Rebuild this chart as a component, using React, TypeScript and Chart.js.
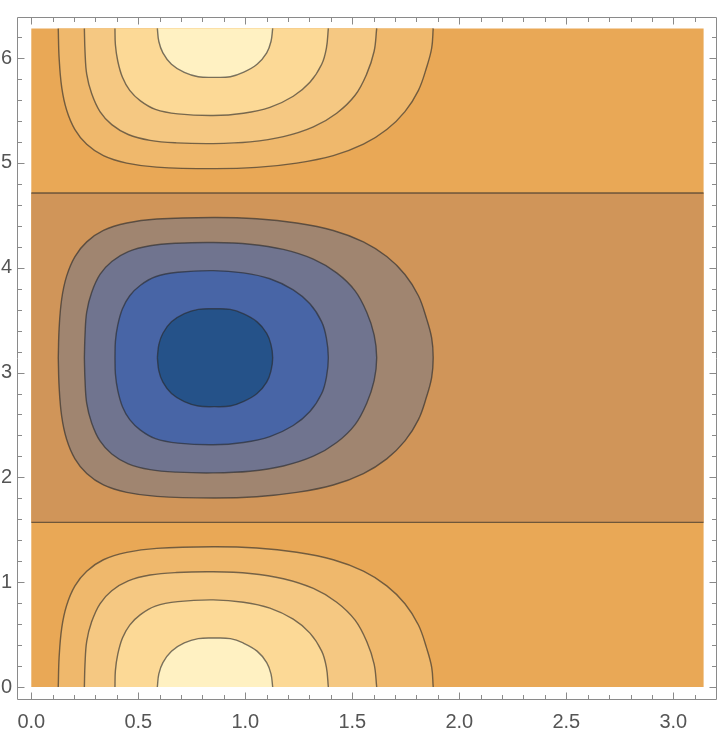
import React, { useEffect, useRef } from 'react';
import { Chart, registerables } from 'chart.js';

Chart.register(...registerables);

// Plot domain
const X_DOMAIN = [0, Math.PI];
const Y_DOMAIN = [0, 2 * Math.PI];

// Axis ticks
const X_TICKS = [0, 0.5, 1, 1.5, 2, 2.5, 3];
const X_TICK_LABELS = ['0.0', '0.5', '1.0', '1.5', '2.0', '2.5', '3.0'];
const Y_TICKS = [0, 1, 2, 3, 4, 5, 6];
const Y_TICK_LABELS = ['0', '1', '2', '3', '4', '5', '6'];
const X_MINOR_STEP = 0.1;
const Y_MINOR_STEP = 0.2;

// Zero contour lines (horizontal)
const ZERO_LINES_Y = [Math.PI / 2, (3 * Math.PI) / 2];

// Contour half-shapes: [x, distance from the line of symmetry]
// (same shape appears around y = 0, y = 2π and, with opposite sign, around y = π)
const CONTOUR_1 = [
  [0.126, 0], [0.13, 0.28], [0.142, 0.56], [0.165, 0.778], [0.204, 0.965], [0.259, 1.105],
  [0.337, 1.214], [0.446, 1.285], [0.586, 1.323], [0.85, 1.338], [1.053, 1.326],
  [1.24, 1.285], [1.411, 1.214], [1.552, 1.105], [1.661, 0.965], [1.746, 0.794],
  [1.809, 0.591], [1.847, 0.373], [1.871, 0.187], [1.878, 0],
];
const CONTOUR_2 = [
  [0.248, 0], [0.251, 0.218], [0.259, 0.436], [0.282, 0.622], [0.321, 0.794], [0.376, 0.918],
  [0.453, 1.012], [0.555, 1.068], [0.679, 1.092], [0.85, 1.099], [1.022, 1.083],
  [1.178, 1.033], [1.318, 0.94], [1.427, 0.809], [1.513, 0.638], [1.567, 0.436],
  [1.602, 0.218], [1.614, 0],
];
const CONTOUR_3 = [
  [0.391, 0], [0.393, 0.156], [0.404, 0.311], [0.426, 0.467], [0.46, 0.591], [0.51, 0.691],
  [0.58, 0.772], [0.685, 0.815], [0.85, 0.831], [0.991, 0.809], [1.115, 0.753],
  [1.224, 0.647], [1.302, 0.514], [1.357, 0.342], [1.379, 0.187], [1.388, 0],
];
const CONTOUR_4 = [
  [0.589, 0], [0.596, 0.125], [0.615, 0.233], [0.655, 0.342], [0.715, 0.42], [0.78, 0.461],
  [0.855, 0.467], [0.93, 0.461], [0.99, 0.42], [1.055, 0.342], [1.1, 0.233], [1.12, 0.125],
  [1.128, 0],
];
const CONTOURS = [CONTOUR_1, CONTOUR_2, CONTOUR_3, CONTOUR_4];

// Region colours, from the zero level outward
const POSITIVE_COLORS = ['#E9A856', '#EFB86C', '#F5C882', '#FCD996', '#FFF1C2'];
const NEGATIVE_COLORS = ['#D09559', '#A08570', '#70748F', '#4865A6', '#255289'];

const LINE_COLOR = 'rgba(40,40,40,0.62)';
const LINE_WIDTH = 1.4;
const AXIS_COLOR = '#8a8a8a';
const LABEL_COLOR = '#555555';
const CURVE_TENSION = 0.38;

type P = { x: number; y: number };

const place = (shape: number[][], cy: number, sign: number): P[] =>
  shape.map(([x, d]) => ({ x, y: cy + sign * d }));

function buildDatasets() {
  const list: any[] = [];
  const region = (data: P[], fillColor: string, border: boolean, tension: number) => ({
    data,
    backgroundColor: fillColor,
    borderColor: border ? LINE_COLOR : 'rgba(0,0,0,0)',
    borderWidth: border ? LINE_WIDTH : 0,
    borderJoinStyle: 'round',
    fill: 'shape',
    pointRadius: 0,
    tension,
  });
  const [x0, x1] = X_DOMAIN;
  const [y0, y1] = Y_DOMAIN;
  // background (0 < f < c1)
  list.push(region([{ x: x0, y: y0 }, { x: x1, y: y0 }, { x: x1, y: y1 }, { x: x0, y: y1 }], POSITIVE_COLORS[0], false, 0));
  // negative band (-c1 < f < 0)
  list.push(region([
    { x: x0, y: ZERO_LINES_Y[0] }, { x: x1, y: ZERO_LINES_Y[0] },
    { x: x1, y: ZERO_LINES_Y[1] }, { x: x0, y: ZERO_LINES_Y[1] },
  ], NEGATIVE_COLORS[0], false, 0));
  CONTOURS.forEach((c, i) => {
    list.push(region(place(c, y0, 1), POSITIVE_COLORS[i + 1], true, CURVE_TENSION));
  });
  CONTOURS.forEach((c, i) => {
    list.push(region(place(c, y1, -1), POSITIVE_COLORS[i + 1], true, CURVE_TENSION));
  });
  const mid = (y0 + y1) / 2;
  CONTOURS.forEach((c, i) => {
    const upper = place(c, mid, 1);
    const lower = place(c, mid, -1).reverse().slice(1);
    list.push(region([...upper, ...lower], NEGATIVE_COLORS[i + 1], true, CURVE_TENSION));
  });
  ZERO_LINES_Y.forEach((yv) => {
    list.push({
      data: [{ x: x0, y: yv }, { x: x1, y: yv }],
      borderColor: LINE_COLOR,
      borderWidth: LINE_WIDTH,
      fill: false,
      pointRadius: 0,
      tension: 0,
    });
  });
  const n = list.length;
  list.forEach((d, i) => (d.order = n - i));
  return list;
}

const framePlugin = {
  id: 'mmaFrame',
  afterDraw(chart: any) {
    const { ctx, chartArea: a, scales } = chart;
    const xs = scales.x;
    const ys = scales.y;
    ctx.save();
    ctx.strokeStyle = AXIS_COLOR;
    ctx.lineWidth = 1;
    const L = Math.round(a.left) + 0.5;
    const R = Math.round(a.right) - 0.5;
    const T = Math.round(a.top) + 0.5;
    const B = Math.round(a.bottom) - 0.5;
    ctx.beginPath();
    ctx.rect(L, T, R - L, B - T);
    ctx.stroke();
    ctx.beginPath();
    const nx = Math.round(X_DOMAIN[1] / X_MINOR_STEP);
    for (let i = 0; i <= nx; i++) {
      const v = i * X_MINOR_STEP;
      const major = X_TICKS.some((t) => Math.abs(t - v) < 1e-6);
      const len = major ? 7 : 4.5;
      const px = Math.round(xs.getPixelForValue(v)) + 0.5;
      ctx.moveTo(px, B);
      ctx.lineTo(px, B - len);
      ctx.moveTo(px, T);
      ctx.lineTo(px, T + len);
    }
    const ny = Math.round(Y_DOMAIN[1] / Y_MINOR_STEP);
    for (let i = 0; i <= ny; i++) {
      const v = i * Y_MINOR_STEP;
      const major = Y_TICKS.some((t) => Math.abs(t - v) < 1e-6);
      const len = major ? 7 : 4.5;
      const py = Math.round(ys.getPixelForValue(v)) + 0.5;
      ctx.moveTo(L, py);
      ctx.lineTo(L + len, py);
      ctx.moveTo(R, py);
      ctx.lineTo(R - len, py);
    }
    ctx.stroke();
    ctx.restore();
  },
};

export default function App() {
  const ref = useRef<HTMLCanvasElement | null>(null);
  useEffect(() => {
    if (!ref.current) return;
    const chart = new Chart(ref.current, {
      type: 'line',
      data: { datasets: buildDatasets() },
      options: {
        animation: false,
        responsive: true,
        maintainAspectRatio: false,
        layout: { padding: { left: 0, right: 3, top: 2, bottom: 0 } },
        plugins: { legend: { display: false }, tooltip: { enabled: false } },
        scales: {
          x: {
            type: 'linear',
            min: -0.0668,
            max: 3.2042,
            grid: { display: false, drawTicks: false },
            border: { display: false },
            afterBuildTicks: (s: any) => {
              s.ticks = X_TICKS.map((v) => ({ value: v }));
            },
            afterFit: (s: any) => {
              s.height = 34;
            },
            ticks: {
              autoSkip: false,
              maxRotation: 0,
              padding: 10,
              color: LABEL_COLOR,
              font: { family: 'Liberation Sans', size: 20 },
              callback: (v: any) => {
                const i = X_TICKS.findIndex((t) => Math.abs(t - v) < 1e-6);
                return i >= 0 ? X_TICK_LABELS[i] : '';
              },
            },
          },
          y: {
            type: 'linear',
            min: -0.124,
            max: 6.392,
            grid: { display: false, drawTicks: false },
            border: { display: false },
            afterBuildTicks: (s: any) => {
              s.ticks = Y_TICKS.map((v) => ({ value: v }));
            },
            afterFit: (s: any) => {
              s.width = 17;
            },
            ticks: {
              autoSkip: false,
              padding: 5,
              color: LABEL_COLOR,
              font: { family: 'Liberation Sans', size: 20 },
              callback: (v: any) => {
                const i = Y_TICKS.findIndex((t) => Math.abs(t - v) < 1e-6);
                return i >= 0 ? Y_TICK_LABELS[i] : '';
              },
            },
          },
        },
      },
      plugins: [framePlugin],
    });
    return () => chart.destroy();
  }, []);
  return (
    <div style={{ position: 'absolute', left: 0, top: 0, width: 720, height: 734 }}>
      <canvas ref={ref} />
    </div>
  );
}
